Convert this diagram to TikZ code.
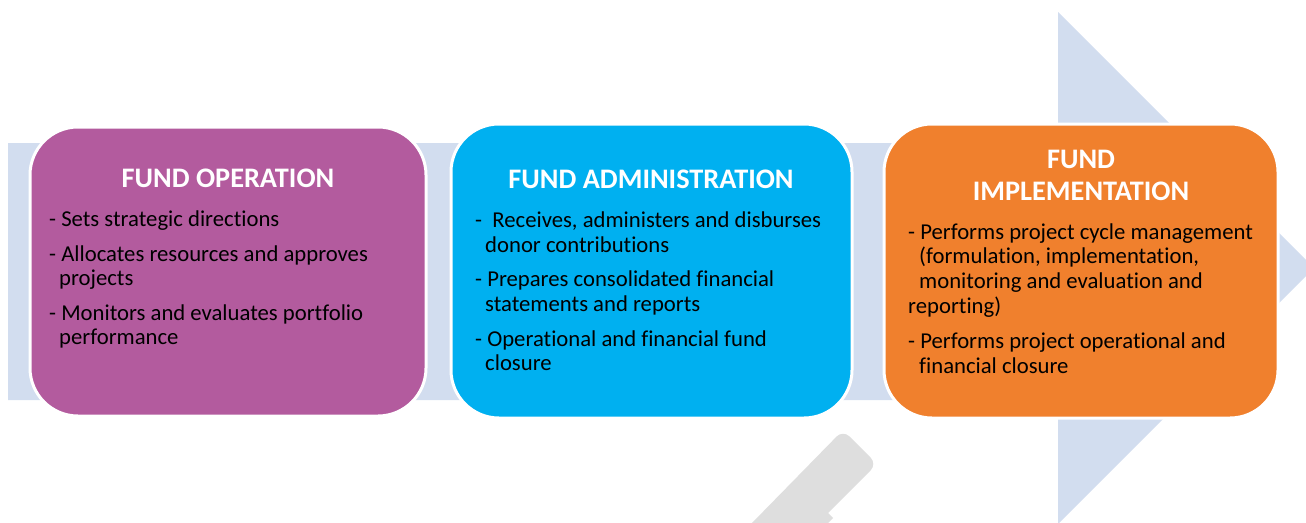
\documentclass[tikz,border=0pt]{standalone}
\usepackage{fontspec}
\setmainfont{Carlito}[Ligatures={NoCommon}]
\definecolor{bandc}{HTML}{D2DDEF}
\definecolor{purpc}{HTML}{B35B9E}
\definecolor{cyanc}{HTML}{00B0F0}
\definecolor{orangc}{HTML}{F0802D}
\definecolor{grayc}{HTML}{DEDEDE}
\begin{document}
\begin{tikzpicture}[x=1pt,y=-1pt,
  card/.style={draw=white,line width=3pt,rounded corners=48pt},
  ttl/.style={text=white,font=\fontsize{28.3}{30}\selectfont\bfseries,anchor=base,inner sep=0pt},
  txt/.style={text=black,font=\fontsize{22.7}{24}\selectfont,anchor=base west,inner sep=0pt}]
\useasboundingbox (0,0) rectangle (1306,522);
% background arrow
\begin{scope}
\clip (0,0) rectangle (1306,522);
\fill[bandc] (8,143) -- (1058,143) -- (1058,12) -- (1314,268) -- (1058,524) -- (1058,400) -- (8,400) -- cycle;
\fill[grayc] (751,524) [rounded corners=9pt] -- (843,430) -- (877,464) [sharp corners] -- (828,513) -- (833,518) -- (827,524) -- cycle;
\end{scope}
% cards
\draw[card,fill=purpc] (30,127) rectangle (426,416);
\draw[card,fill=cyanc] (451,124) rectangle (852,418);
\draw[card,fill=orangc] (884,124) rectangle (1278,418);
% card 1
\node[ttl] (t1) at (228,187) {FUND OPERATION};
\node[txt] (a1) at (49,226) {- Sets strategic directions};
\node[txt] (a2) at (49,261) {- Allocates resources and approves};
\node[txt] (a3) at (59,285) {projects};
\node[txt] (a4) at (49,320) {- Monitors and evaluates portfolio};
\node[txt] (a5) at (59,344) {performance};
% card 2
\node[ttl] (t2) at (651,188) {FUND ADMINISTRATION};
\node[txt] (b1) at (475,227) {-\ \ Receives, administers and disburses};
\node[txt] (b2) at (485,252) {donor contributions};
\node[txt] (b3) at (475,286) {- Prepares consolidated financial};
\node[txt] (b4) at (485,311) {statements and reports};
\node[txt] (b5) at (475,346) {- Operational and financial fund};
\node[txt] (b6) at (485,370) {closure};
% card 3
\node[ttl] (t3a) at (1081,168) {FUND};
\node[ttl] (t3b) at (1081,200) {IMPLEMENTATION};
\node[txt] (c1) at (908,239) {- Performs project cycle management};
\node[txt] (c2) at (919,263) {(formulation, implementation,};
\node[txt] (c3) at (919,288) {monitoring and evaluation and};
\node[txt] (c4) at (908,313) {reporting)};
\node[txt] (c5) at (908,348) {- Performs project operational and};
\node[txt] (c6) at (919,373) {financial closure};
\end{tikzpicture}
\end{document}
